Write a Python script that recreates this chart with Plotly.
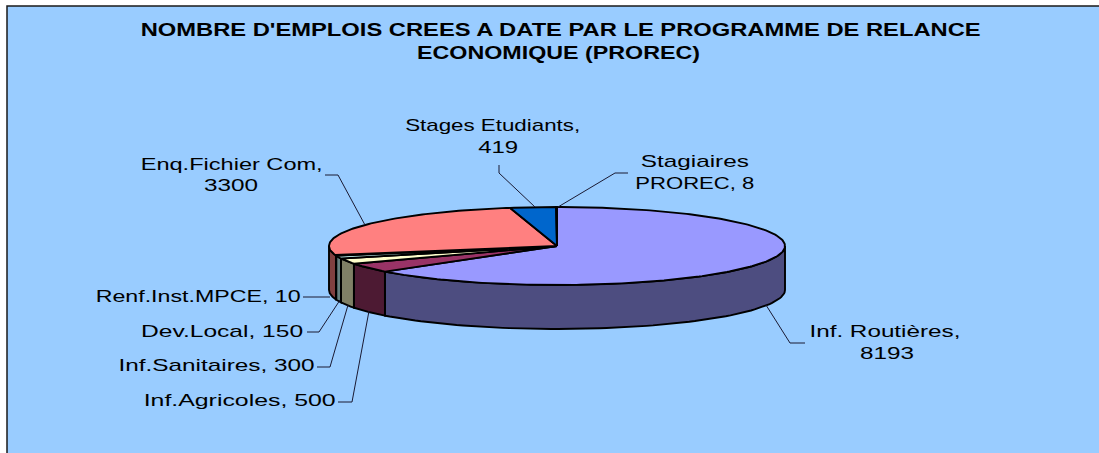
import json
import numpy as np
import plotly.graph_objects as go

categories = ["Inf. Routières", "Inf.Agricoles", "Inf.Sanitaires", "Dev.Local",
              "Renf.Inst.MPCE", "Enq.Fichier Com", "Stages Etudiants", "Stagiaires PROREC"]
values = [8193, 500, 300, 150, 10, 3300, 419, 8]
top_colors = ["#9999FF", "#993366", "#FFFFCC", "#CCFFFF", "#660066", "#FF8080", "#0066CC", "#CCCCFF"]
side_colors = ["#4D4D80", "#4D1A33", "#808066", "#668080", "#330033", "#804040", "#003366", "#666680"]
title_lines = ["NOMBRE D'EMPLOIS CREES A DATE PAR LE PROGRAMME DE RELANCE", "ECONOMIQUE (PROREC)"]

W, H = 1099, 453
CX, CY, RX, RY, DEPTH = 557, 246, 228, 39, 44
FONT = "Liberation Sans"
EDGE = dict(color="#000000", width=1.9)

# label placement: [(text, centre x, centre y, drawn width)], leader polyline
labels = {
    "Inf. Routières": ([("Inf. Routières,", 885, 331, 151), ("8193", 887, 353, 54)], [(766, 305), (790, 343), (805, 343)]),
    "Inf.Agricoles": ([("Inf.Agricoles, 500", 239, 400, 192)], [(338, 402), (352, 402), (369, 311)]),
    "Inf.Sanitaires": ([("Inf.Sanitaires, 300", 216, 365, 196)], [(317, 367), (330, 367), (348, 305)]),
    "Dev.Local": ([("Dev.Local, 150", 222, 331, 162)], [(307, 332), (319, 332), (340, 300)]),
    "Renf.Inst.MPCE": ([("Renf.Inst.MPCE, 10", 198, 296, 205)], [(303, 297), (330, 297)]),
    "Enq.Fichier Com": ([("Enq.Fichier Com,", 231, 164, 182), ("3300", 231, 185, 54)], [(365, 225), (338, 175), (325, 175)]),
    "Stages Etudiants": ([("Stages Etudiants,", 492, 125, 175), ("419", 498, 147, 40)], [(535, 207), (499, 173), (499, 165)]),
    "Stagiaires PROREC": ([("Stagiaires", 695, 161, 108), ("PROREC, 8", 695, 183, 119)], [(558, 207), (615, 173), (628, 173)]),
}
title_place = [(560, 30, 840), (558, 53, 283)]


def pt(theta, dy=0.0):
    """theta in radians, clockwise from 12 o'clock."""
    return CX + RX * np.sin(theta), CY - RY * np.cos(theta) + dy


fig = go.Figure()
fractions = np.array(values, dtype=float) / sum(values)
ends = np.cumsum(fractions) * 2 * np.pi
starts = np.concatenate([[0.0], ends[:-1]])

# side walls, only the front half of the disc is visible
for cat, a0, a1, col in zip(categories, starts, ends, side_colors):
    lo, hi = max(a0, np.pi / 2), min(a1, 3 * np.pi / 2)
    if hi <= lo:
        continue
    t = np.linspace(lo, hi, 80)
    xt, yt = pt(t)
    xb, yb = pt(t[::-1], DEPTH)
    fig.add_trace(go.Scatter(x=np.r_[xt, xb, xt[0]], y=np.r_[yt, yb, yt[0]], mode="lines",
                             fill="toself", fillcolor=col, line=EDGE, name=cat, hoverinfo="name"))

# top faces
for cat, a0, a1, col, v in zip(categories, starts, ends, top_colors, values):
    t = np.linspace(a0, a1, max(int((a1 - a0) * 60), 4))
    xe, ye = pt(t)
    fig.add_trace(go.Scatter(x=np.r_[CX, xe, CX], y=np.r_[CY, ye, CY], mode="lines",
                             fill="toself", fillcolor=col, line=EDGE, name=cat,
                             text=f"{cat}, {v}", hoverinfo="text"))

# leader lines and labels
annotations = []
text_widths = []
for cat in categories:
    lines, poly = labels[cat]
    fig.add_trace(go.Scatter(x=[p[0] for p in poly], y=[p[1] for p in poly], mode="lines",
                             line=dict(color="#1a1a33", width=1), hoverinfo="skip"))
    for text, lx, ly, w in lines:
        annotations.append(dict(x=lx, y=ly, xref="x", yref="y", text=text, showarrow=False,
                                xanchor="center", yanchor="middle",
                                font=dict(family=FONT, size=17, color="#000000")))
        text_widths.append(w)

for text, (lx, ly, w) in zip(title_lines, title_place):
    annotations.append(dict(x=lx, y=ly, xref="x", yref="y", text=f"<b>{text}</b>", showarrow=False,
                            xanchor="center", yanchor="middle",
                            font=dict(family=FONT, size=18, color="#000000")))
    text_widths.append(w)

fig.update_layout(
    width=W, height=H, autosize=False, showlegend=False,
    margin=dict(l=0, r=0, t=0, b=0),
    paper_bgcolor="#FFFFFF", plot_bgcolor="#FFFFFF",
    xaxis=dict(range=[0, W], visible=False, fixedrange=True),
    yaxis=dict(range=[H, 0], visible=False, fixedrange=True),
    annotations=annotations,
    shapes=[dict(type="rect", xref="x", yref="y", x0=7, y0=6, x1=W + 5, y1=H + 5, layer="below",
                 fillcolor="#99CCFF", line=dict(color="#1a1a1a", width=1.5))],
)
# the reference's lettering is horizontally stretched: fit each real text line to its drawn width
stretch = """
document.body.style.margin = '0';
var widths = %s;
document.querySelectorAll('.annotation-text').forEach(function (el, i) {
  el.setAttribute('textLength', widths[i]);
  el.setAttribute('lengthAdjust', 'spacingAndGlyphs');
});
""" % json.dumps(text_widths)
fig.write_html("out.html", config={"displayModeBar": False}, post_script=stretch)
